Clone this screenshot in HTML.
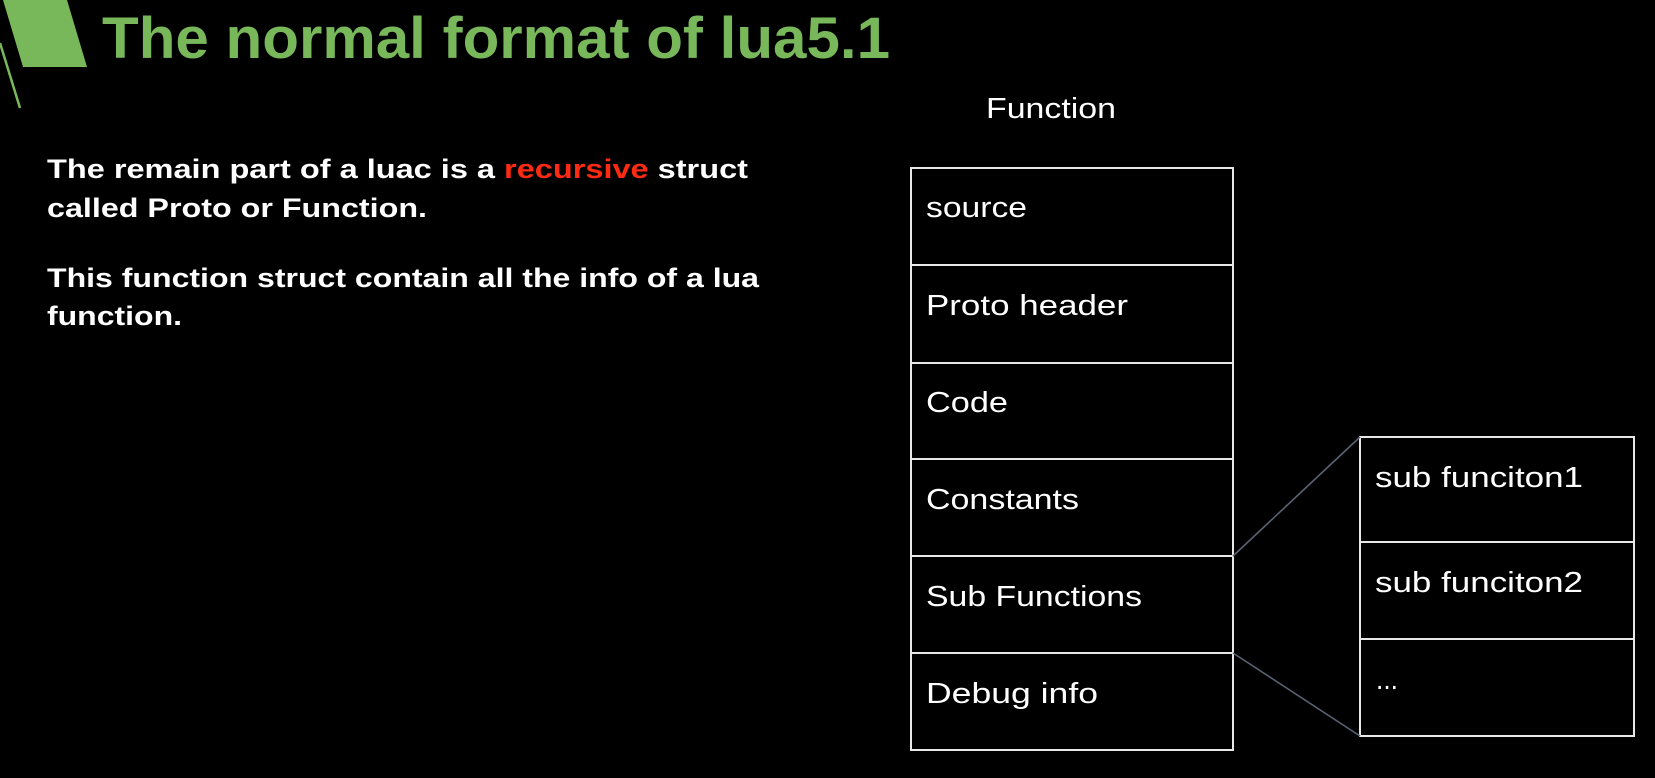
<!DOCTYPE html>
<html><head><meta charset="utf-8"><style>
html,body{margin:0;padding:0;background:#000;}
svg{display:block;}
</style></head><body>
<svg width="1655" height="778" viewBox="0 0 1655 778" xmlns="http://www.w3.org/2000/svg">
<rect width="1655" height="778" fill="#000"/>
<polygon points="3,0 67,0 87,67 23,67" fill="#79b85a"/>
<line x1="0" y1="43" x2="20" y2="108" stroke="#79b85a" stroke-width="2.5"/>
<text x="102" y="58" font-family="Liberation Sans, sans-serif" font-weight="bold" font-size="58" fill="#79b85a" textLength="788" lengthAdjust="spacingAndGlyphs">The normal format of lua5.1</text>
<g font-family="Liberation Sans, sans-serif" font-weight="bold" font-size="27" fill="#fff">
<text x="47" y="178" textLength="701" lengthAdjust="spacingAndGlyphs">The remain part of a luac is a <tspan fill="#ff2a12">recursive</tspan> struct</text>
<text x="47" y="217" textLength="380" lengthAdjust="spacingAndGlyphs">called Proto or Function.</text>
<text x="47" y="287" textLength="712" lengthAdjust="spacingAndGlyphs">This function struct contain all the info of a lua</text>
<text x="47" y="325" textLength="135" lengthAdjust="spacingAndGlyphs">function.</text>
</g>
<g fill="none" stroke="#e8e8e8" stroke-width="2">
<rect x="911" y="168" width="322" height="582"/>
<line x1="911" y1="265" x2="1233" y2="265"/>
<line x1="911" y1="363" x2="1233" y2="363"/>
<line x1="911" y1="459" x2="1233" y2="459"/>
<line x1="911" y1="556" x2="1233" y2="556"/>
<line x1="911" y1="653" x2="1233" y2="653"/>
<rect x="1360" y="437" width="274" height="299"/>
<line x1="1360" y1="542" x2="1634" y2="542"/>
<line x1="1360" y1="639" x2="1634" y2="639"/>
</g>
<g stroke="#5a6274" stroke-width="1.6">
<line x1="1233" y1="556" x2="1360" y2="437"/>
<line x1="1233" y1="653" x2="1360" y2="736"/>
</g>
<g font-family="Liberation Sans, sans-serif" font-size="29" fill="#fff">
<text x="986" y="118" textLength="130" lengthAdjust="spacingAndGlyphs">Function</text>
<text x="926" y="217" textLength="101" lengthAdjust="spacingAndGlyphs">source</text>
<text x="926" y="315" textLength="202" lengthAdjust="spacingAndGlyphs">Proto header</text>
<text x="926" y="412" textLength="82" lengthAdjust="spacingAndGlyphs">Code</text>
<text x="926" y="509" textLength="153" lengthAdjust="spacingAndGlyphs">Constants</text>
<text x="926" y="606" textLength="216" lengthAdjust="spacingAndGlyphs">Sub Functions</text>
<text x="926" y="703" textLength="172" lengthAdjust="spacingAndGlyphs">Debug info</text>
<text x="1375" y="487" textLength="208" lengthAdjust="spacingAndGlyphs">sub funciton1</text>
<text x="1375" y="592" textLength="208" lengthAdjust="spacingAndGlyphs">sub funciton2</text>
<text x="1376" y="689" textLength="22" lengthAdjust="spacingAndGlyphs">...</text>
</g>
</svg>
</body></html>
